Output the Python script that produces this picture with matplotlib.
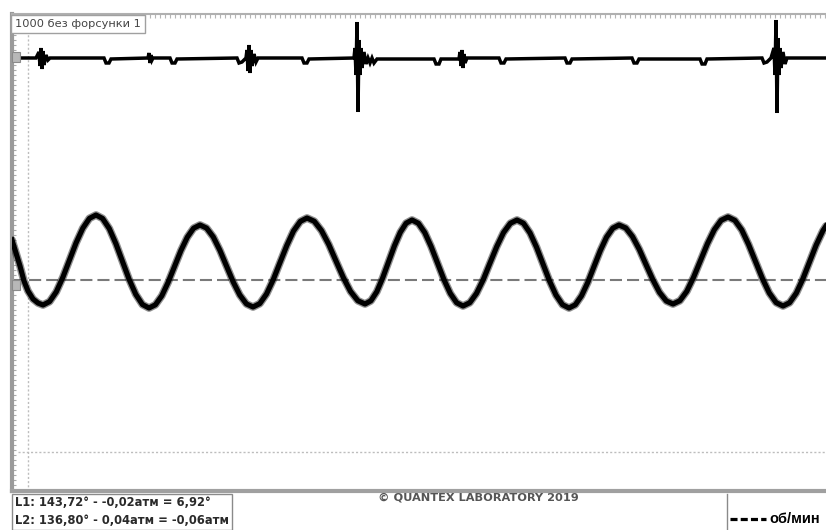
import matplotlib
matplotlib.use("Agg")
import matplotlib.pyplot as plt
from matplotlib.patches import Rectangle
from matplotlib.lines import Line2D

# ---------------- data (x in screen units, level relative to dashed reference line) -------------
# lower channel: pressure-like oscillation (centre of the noisy band)
wave_x = [12, 16, 20, 24, 28, 33, 38,
          43, 49.6, 56.3, 62.9, 69.5, 76.1, 82.8, 89.4,
          96, 102.6, 109.3, 115.9, 122.5, 129.1, 135.8, 142.4,
          149, 155.4, 161.8, 168.1, 174.5, 180.9, 187.3, 193.6,
          200, 206.6, 213.3, 219.9, 226.5, 233.1, 239.8, 246.4,
          253, 259.8, 266.5, 273.3, 280, 286.8, 293.5, 300.3,
          307, 314.3, 321.5, 328.8, 336, 343.3, 350.5, 357.8,
          365, 370.9, 376.8, 382.6, 388.5, 394.4, 400.3, 406.1,
          412, 418.4, 424.8, 431.1, 437.5, 443.9, 450.3, 456.6,
          463, 469.8, 476.5, 483.3, 490, 496.8, 503.5, 510.3,
          517, 523.5, 530, 536.5, 543, 549.5, 556, 562.5,
          569, 575.3, 581.5, 587.8, 594, 600.3, 606.5, 612.8,
          619, 625.8, 632.5, 639.3, 646, 652.8, 659.5, 666.3,
          673, 679.9, 686.8, 693.6, 700.5, 707.4, 714.3, 721.1,
          728, 734.9, 741.8, 748.6, 755.5, 762.4, 769.3, 776.1,
          783, 789.6, 796.3, 802.9, 809.5, 816.1, 822.8, 826]
wave_v = [40, 27, 14, -1, -11, -19, -23,
          -25, -21.6, -11.8, 2.8, 20, 37.2, 51.8, 61.6,
          65, 61.5, 51.4, 36.3, 18.5, 0.7, -14.4, -24.5,
          -28, -24.8, -15.8, -2.4, 13.5, 29.4, 42.8, 51.8,
          55, 51.9, 43, 29.7, 14, -1.7, -15, -23.9,
          -27, -23.6, -14, 0.5, 17.5, 34.5, 49, 58.6,
          62, 58.7, 49.4, 35.5, 19, 2.5, -11.4, -20.7,
          -24, -20.8, -11.7, 1.9, 18, 34.1, 47.7, 56.8,
          60, 56.7, 47.4, 33.5, 17, 0.5, -13.4, -22.7,
          -26, -22.7, -13.4, 0.5, 17, 33.5, 47.4, 56.7,
          60, 56.7, 47.1, 32.9, 16, -0.9, -15.1, -24.7,
          -28, -24.8, -15.8, -2.4, 13.5, 29.4, 42.8, 51.8,
          55, 52, 43.4, 30.6, 15.5, 0.4, -12.4, -21,
          -24, -20.7, -11.3, 2.8, 19.5, 36.2, 50.3, 59.7,
          63, 59.6, 50, 35.5, 18.5, 1.5, -13, -22.6,
          -26, -22.7, -13.1, 1.2, 18, 34.8, 49.1, 54]

# upper channel: ignition / vibration trace with bursts and small dips
top_x = [12, 36, 39, 40, 41, 42, 43, 44, 46, 48, 50,
         104, 106, 109, 111,
         148, 149, 150, 151, 152, 153,
         170, 172, 175, 177,
         237, 239, 242, 246, 247, 248, 249, 250, 251, 252, 254, 256, 258,
         302, 304, 307, 309,
         354, 355, 356, 357, 358, 359, 360, 361, 362, 364, 366, 368, 370, 372, 374, 377,
         434, 436, 439, 441,
         459, 460, 461, 462, 463, 464, 465, 467,
         499, 501, 504, 506,
         565, 567, 570, 572,
         632, 634, 637, 639,
         700, 702, 705, 707,
         762, 764, 767, 771, 774, 775, 776, 777, 778, 779, 780, 781, 783, 785, 787, 826]
top_v = [222, 222, 228, 214, 232, 211, 229, 215, 225, 220, 222,
         222, 217, 217, 221,
         222, 227, 217, 225, 220, 222,
         222, 217, 217, 221,
         222, 217, 218, 222, 230, 209, 235, 207, 230, 214, 226, 218, 222,
         222, 217, 217, 221,
         222, 232, 205, 258, 168, 240, 205, 232, 212, 228, 216, 222, 217, 222, 217, 221,
         221, 216, 216, 221,
         221, 228, 214, 230, 212, 226, 217, 222,
         222, 217, 217, 221,
         222, 217, 217, 221,
         222, 217, 217, 221,
         221, 216, 216, 221,
         222, 217, 218, 222, 232, 205, 260, 167, 242, 205, 232, 212, 228, 216, 222, 222]

ref_level = 0          # dashed reference line
cursor_x = 28          # dotted vertical cursor
cursor_level = -172    # dotted horizontal cursor
channel_marks = [223, -5]

title_text = "1000 без форсунки 1"
l1_text = "L1: 143,72° - -0,02атм = 6,92°"
l2_text = "L2: 136,80° - 0,04атм = -0,06атм"
copyright_text = "© QUANTEX LABORATORY 2019"
legend_text = "об/мин"

# ---------------- figure ----------------
W, H = 826, 530
fig = plt.figure(figsize=(W / 100, H / 100), dpi=100)
fig.patch.set_facecolor("white")

def fx(px):
    return px / W

def fy(py):
    return 1 - py / H

ax = fig.add_axes([fx(12), fy(491), fx(826) - fx(12), fy(14) - fy(491)])
ax.set_xlim(12, 826)
ax.set_ylim(280 - 491, 280 - 14)
ax.set_facecolor("white")

# frame styling
ax.spines["right"].set_visible(False)
ax.spines["left"].set_color("#9a9a9a")
ax.spines["left"].set_linewidth(3)
ax.spines["bottom"].set_color("#a0a0a0")
ax.spines["bottom"].set_linewidth(3)
ax.spines["top"].set_color("#b0b0b0")
ax.spines["top"].set_linewidth(1.5)

ax.set_yticks(range(-210, 266, 5))
ax.set_xticks(range(15, 826, 5))
ax.tick_params(axis="y", left=True, right=False, direction="in", length=3, width=0.8,
               color="#aaaaaa", labelleft=False)
ax.tick_params(axis="x", top=True, bottom=False, direction="in", length=3, width=0.8,
               color="#b5b5b5", labelbottom=False, labeltop=False)

# cursors
ax.axvline(cursor_x, color="#bdbdbd", lw=1.0, ls=(0, (1.5, 1.5)), zorder=1)
ax.axhline(cursor_level, xmin=(18 - 12) / 814, color="#bdbdbd", lw=1.0, ls=(0, (1.5, 1.5)), zorder=1)

# reference dashed line
ax.axhline(ref_level, color="#7a7a7a", lw=1.5, dashes=(5.8, 2.4), zorder=2)

# lower waveform (noisy band)
ax.plot(wave_x, wave_v, color="#222222", lw=5.6, alpha=0.5, solid_joinstyle="round",
        solid_capstyle="round", zorder=3)
ax.plot(wave_x, wave_v, color="black", lw=3.7, solid_joinstyle="round", zorder=4)

# upper trace
ax.plot(top_x, top_v, color="black", lw=2.5, solid_joinstyle="miter", zorder=4)

# channel markers on left edge
for lv in channel_marks:
    ax.add_patch(Rectangle((12, lv - 5), 8, 10, facecolor="#b8b8b8", edgecolor="#8a8a8a",
                           lw=0.8, clip_on=False, zorder=5))

# title box
fig.text(fx(15), fy(24), title_text, fontsize=8.2, family="DejaVu Sans", color="#444444",
         va="center", ha="left",
         bbox=dict(boxstyle="square,pad=0.32", facecolor="white", edgecolor="#a0a0a0", lw=1.0))

# bottom-left info box
fig.add_artist(Rectangle((fx(12), 0), fx(232) - fx(12), fy(494), transform=fig.transFigure,
                         facecolor="white", edgecolor="#8a8a8a", lw=1.0))
fig.text(fx(15), fy(503), l1_text, fontsize=8.3, family="DejaVu Sans", weight="bold",
         color="#2a2a2a", va="center", ha="left")
fig.text(fx(15), fy(521), l2_text, fontsize=8.3, family="DejaVu Sans", weight="bold",
         color="#2a2a2a", va="center", ha="left")

# copyright
fig.text(fx(478), fy(498), copyright_text, fontsize=8.2, family="DejaVu Sans", weight="bold",
         color="#555555", va="center", ha="center")

# legend box at bottom right
fig.add_artist(Line2D([fx(727), fx(727)], [0, fy(494)], transform=fig.transFigure,
                      color="#8a8a8a", lw=1.0))
fig.add_artist(Line2D([fx(730), fx(766)], [fy(519), fy(519)], transform=fig.transFigure,
                      color="black", lw=2.3, dashes=(2.2, 1.0)))
fig.text(fx(769), fy(519), legend_text, fontsize=10.5, family="Liberation Sans", weight="bold",
         color="black", va="center", ha="left")

fig.savefig("out.png", dpi=100)
